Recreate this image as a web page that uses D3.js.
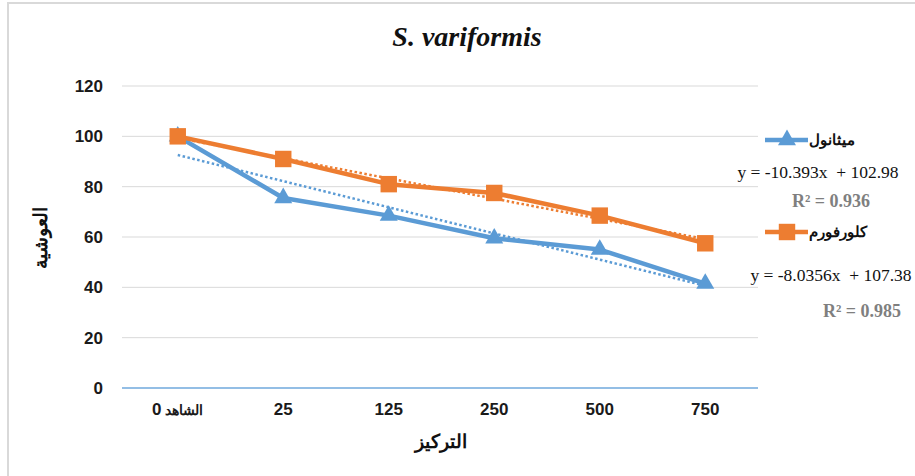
<!DOCTYPE html>
<html><head><meta charset="utf-8">
<script src="https://cdn.jsdelivr.net/npm/d3@7"></script>
<style>body{margin:0;background:#fff}svg{display:block}</style>
</head><body>
<script>
const categories = ["الشاهد 0","25","125","250","500","750"];
const methanol = [100, 75.5, 68.5, 59.5, 55, 41.5];
const chloroform = [100, 91, 81, 77.5, 68.5, 57.5];
const seriesNames = ["ميثانول","كلورفورم"];
const trendSlope = [-10.393, -8.0356];
const trendIntercept = [102.98, 107.38];
const equations = ["y = -10.393x  + 102.98","y = -8.0356x  + 107.38"];
const r2Labels = ["R² = 0.936","R² = 0.985"];
const yTicks = [0,20,40,60,80,100,120];

const W=915,H=476;
const svg=d3.select("body").append("svg").attr("width",W).attr("height",H);
svg.append("rect").attr("width",W).attr("height",H).attr("fill","#fff");
svg.append("path").attr("d","M8,476 V3 H915").attr("fill","none").attr("stroke","#d9d9d9").attr("stroke-width",2);

const x=d3.scaleBand().domain(categories).range([125,758]);
const y=d3.scaleLinear().domain([0,120]).range([388,86]);
const cx=c=>x(c)+x.bandwidth()/2;
const sans="Liberation Sans, Arial";
const serif="Liberation Serif, Times New Roman";

svg.append("g").selectAll("line").data(yTicks.filter(d=>d>0)).join("line")
 .attr("x1",122).attr("x2",758).attr("y1",d=>y(d)).attr("y2",d=>y(d))
 .attr("stroke","#d9d9d9").attr("stroke-width",1);
svg.append("line").attr("x1",122).attr("x2",758).attr("y1",y(0)).attr("y2",y(0))
 .attr("stroke","#6fa8dc").attr("stroke-width",1.3);

const ya=svg.append("g").attr("transform","translate(122,0)")
 .call(d3.axisLeft(y).tickValues(yTicks).tickSize(0).tickPadding(19));
ya.select(".domain").remove();
ya.selectAll("text").attr("font-family",sans).attr("font-weight","bold").attr("font-size",17).attr("fill","#1a1a1a");

const xa=svg.append("g").attr("transform","translate(0,388)")
 .call(d3.axisBottom(x).tickSize(0).tickPadding(15));
xa.select(".domain").remove();
xa.selectAll("text").attr("font-family",sans).attr("font-weight","bold").attr("font-size",17).attr("fill","#1a1a1a");
xa.selectAll("text").filter((d,i)=>i===0).each(function(d){
  const t=d3.select(this); const parts=d.split(" ");
  t.text(null);
  t.append("tspan").attr("font-size",14).text(parts[0]+" ");
  t.append("tspan").text(parts[1]);
});

svg.append("text").attr("x",467).attr("y",46).attr("text-anchor","middle")
 .attr("font-family",serif).attr("font-weight","bold").attr("font-style","italic")
 .attr("font-size",28).attr("fill","#111").text("S. variformis");

svg.append("text").attr("x",441).attr("y",448).attr("text-anchor","middle")
 .attr("font-family",sans).attr("font-weight","bold").attr("font-size",19).attr("fill","#111").text("التركيز");
svg.append("text").attr("transform","translate(47,238) rotate(-90)").attr("text-anchor","middle")
 .attr("font-family",sans).attr("font-weight","bold").attr("font-size",19).attr("fill","#111").text("العوشية");

const colors=["#5b9bd5","#ed7d31"];
const data=[methanol,chloroform];
const line=d3.line().x((d,i)=>cx(categories[i])).y(d=>y(d));

data.forEach((s,k)=>{
  const n=categories.length;
  const pts=[1,n].map(t=>[cx(categories[t-1]), y(trendSlope[k]*t+trendIntercept[k])]);
  svg.append("line").attr("x1",pts[0][0]).attr("y1",pts[0][1]).attr("x2",pts[1][0]).attr("y2",pts[1][1])
   .attr("stroke",colors[k]).attr("stroke-width",2.5).attr("stroke-dasharray","2.5,2.5");
});

const tri=d3.symbol().type(d3.symbolTriangle).size(140);
const sq=d3.symbol().type(d3.symbolSquare).size(270);

svg.append("path").datum(methanol).attr("d",line).attr("fill","none").attr("stroke",colors[0]).attr("stroke-width",4.5).attr("stroke-linejoin","round");
svg.append("g").selectAll("path").data(methanol).join("path")
 .attr("transform",(d,i)=>`translate(${cx(categories[i])},${y(d)})`).attr("d",tri).attr("fill",colors[0]);
svg.append("path").datum(chloroform).attr("d",line).attr("fill","none").attr("stroke",colors[1]).attr("stroke-width",4.5).attr("stroke-linejoin","round");
svg.append("g").selectAll("path").data(chloroform).join("path")
 .attr("transform",(d,i)=>`translate(${cx(categories[i])},${y(d)})`).attr("d",sq).attr("fill",colors[1]);

const legY=[140,232];
const eqPos=[[818,172],[831,275]];
const r2Pos=[[831,201],[862,311]];
[0,1].forEach(k=>{
  const g=svg.append("g");
  g.append("line").attr("x1",765).attr("x2",808).attr("y1",legY[k]).attr("y2",legY[k]).attr("stroke",colors[k]).attr("stroke-width",4.5);
  g.append("path").attr("transform",`translate(787,${legY[k]})`).attr("d",k===0?tri:sq).attr("fill",colors[k]);
  g.append("text").attr("x",809).attr("y",legY[k]).attr("dy","0.35em").attr("text-anchor","start")
   .attr("font-family",sans).attr("font-weight","bold").attr("font-size",15).attr("fill","#111")
   .text(seriesNames[k]);
  g.append("text").attr("x",eqPos[k][0]).attr("y",eqPos[k][1]).attr("dy","0.35em").attr("text-anchor","middle")
   .attr("font-family",serif).attr("font-size",17.5).attr("fill","#111")
   .attr("xml:space","preserve").style("white-space","pre").text(equations[k]);
  g.append("text").attr("x",r2Pos[k][0]).attr("y",r2Pos[k][1]).attr("dy","0.35em").attr("text-anchor","middle")
   .attr("font-family",serif).attr("font-weight","bold").attr("font-size",18).attr("fill","#7f7f7f")
   .text(r2Labels[k]);
});
</script>
</body></html>
